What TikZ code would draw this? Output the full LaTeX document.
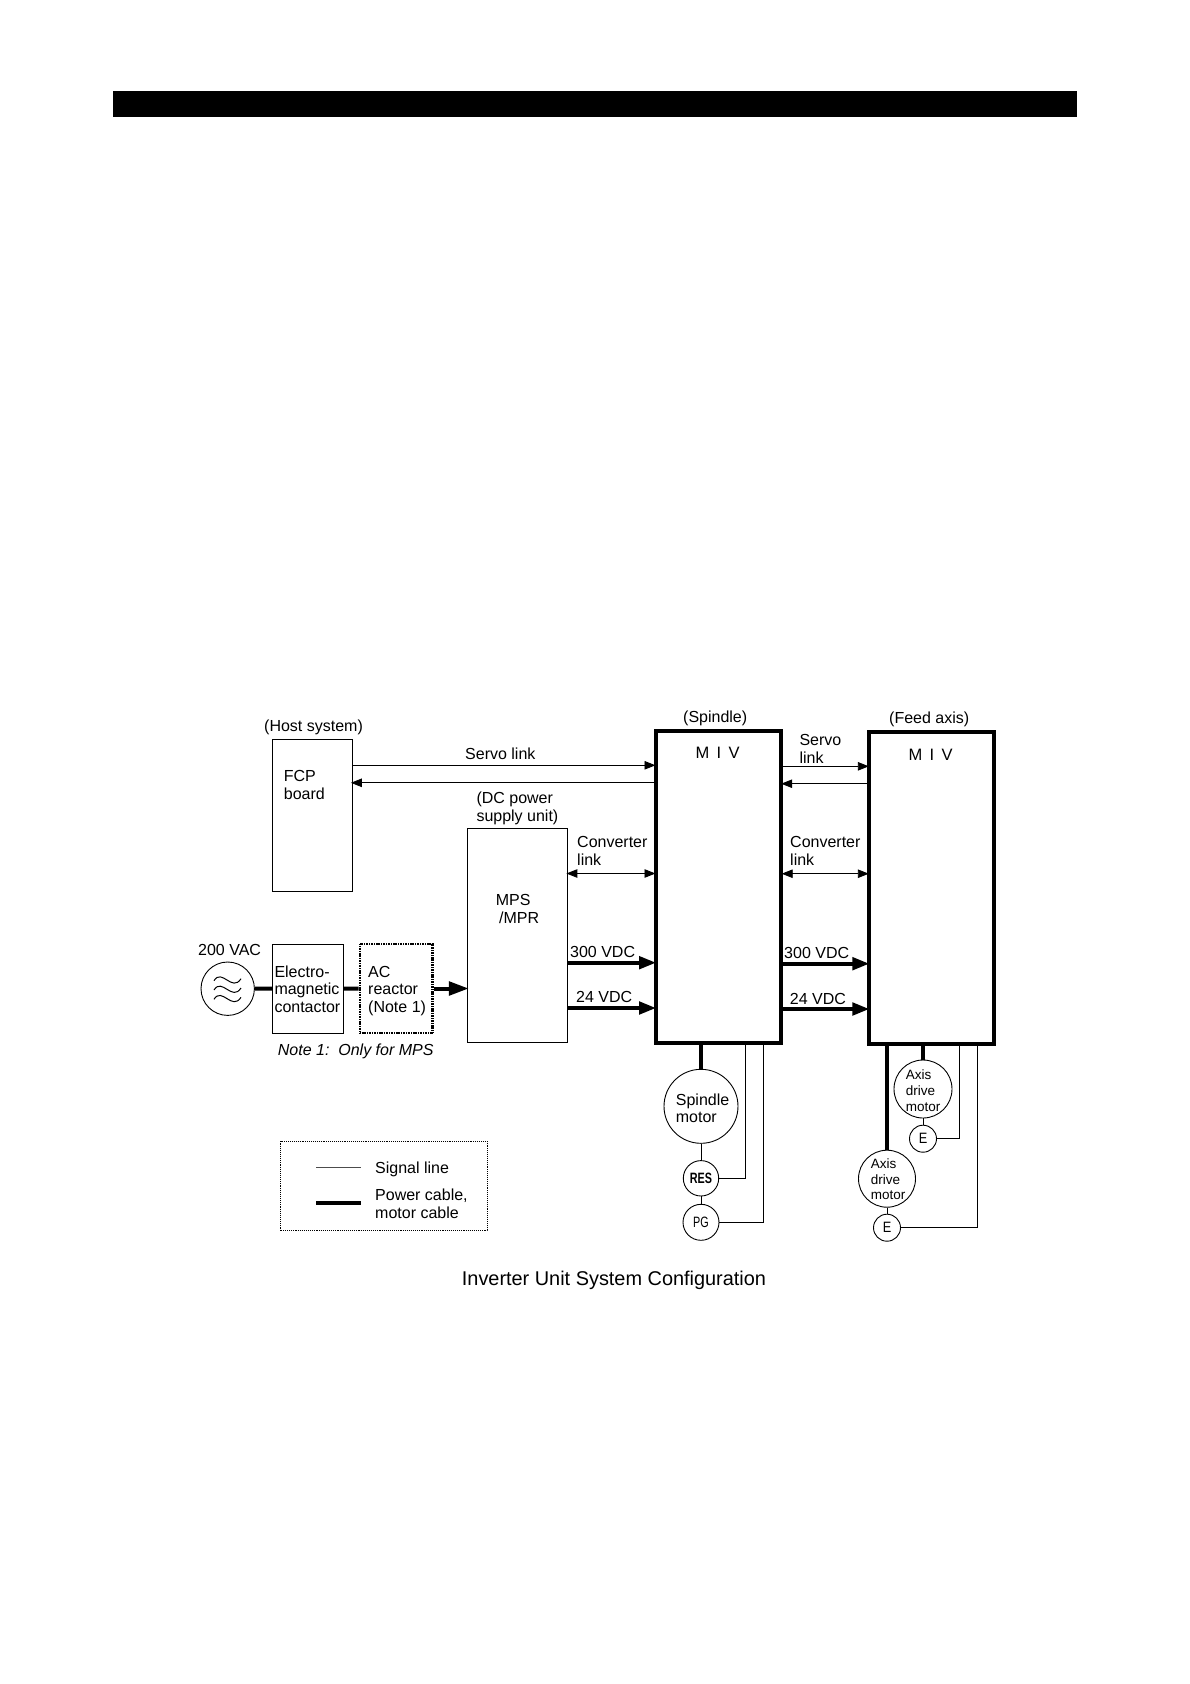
\documentclass[tikz,border=0pt]{standalone}
\usepackage{fontspec}
\setmainfont{Liberation Sans}
\usetikzlibrary{arrows.meta}
\tikzset{
  x=1pt,y=-1pt,
  lbl/.style={anchor=base west,inner sep=0pt,align=left,yshift=-.7pt,font=\fontsize{16}{17.5}\selectfont},
  small/.style={lbl,font=\fontsize{13.5}{15.6}\selectfont},
  box/.style={draw,line width=.8pt,inner sep=0pt},
  unit/.style={draw,line width=4pt,inner sep=0pt},
  dotbox/.style={draw,line width=2.6pt,dash pattern=on 1.1pt off .6pt,inner sep=0pt},
  legendbox/.style={draw,line width=.8pt,dash pattern=on 1.1pt off 1pt,inner sep=0pt},
  circ/.style={draw,circle,line width=.9pt,inner sep=0pt},
  sig/.style={line width=.9pt},
  pow/.style={line width=3.6pt},
  tipthin/.style={-{Triangle[length=11pt,width=8.5pt]},shorten >=-1.5pt},
  tiptwo/.style={{Triangle[length=11pt,width=8.5pt]}-{Triangle[length=11pt,width=8.5pt]},shorten >=-1.5pt,shorten <=-1pt},
  tipthick/.style={-{Triangle[length=17pt,width=12.5pt]},shorten >=-2pt},
}
\newcommand{\narrowtxt}[2]{\fontsize{15}{15}\selectfont\scalebox{#1}[1]{#2}}
\begin{document}
\begin{tikzpicture}
\fill[white] (0,0) rectangle (1190,1684);
\useasboundingbox (0,0) rectangle (1190,1684);
\fill[black] (113,90.5) rectangle (1077,116.8);

% boxes
\node[box,minimum width=79.5pt,minimum height=152pt] (fcp) at (312.25,815) {};
\node[box,minimum width=99.3pt,minimum height=214.7pt] (mps) at (517.35,935.35) {};
\node[box,minimum width=70.5pt,minimum height=88.7pt] (emc) at (307.75,988.65) {};
\node[dotbox,minimum width=72.7pt,minimum height=89pt] (acr) at (396.35,988.5) {};
\node[unit,minimum width=124.7pt,minimum height=312pt] (miva) at (718.35,887) {};
\node[unit,minimum width=125pt,minimum height=312pt] (mivb) at (931.8,888) {};
\node[legendbox,minimum width=206.3pt,minimum height=89pt] (legend) at (383.85,1185.5) {};

% circles
\node[circ,minimum size=53.4pt] (src) at (227.7,988.7) {};
\node[circ,minimum size=74pt] (smot) at (701,1106.3) {};
\node[circ,minimum size=35.4pt] (res) at (701,1178.3) {\fontsize{15}{15}\selectfont\bfseries\scalebox{.72}[1]{RES}};
\node[circ,minimum size=36pt] (pg) at (701,1222.3) {\narrowtxt{.72}{PG}};
\node[circ,minimum size=58pt] (amota) at (923,1089) {};
\node[circ,minimum size=27pt] (ea) at (923,1138.7) {\narrowtxt{.85}{E}};
\node[circ,minimum size=57pt] (amotb) at (887,1178.7) {};
\node[circ,minimum size=27pt] (eb) at (887,1227.7) {\narrowtxt{.85}{E}};

% AC waves
\foreach \wy in {980.7,990,999.3}
  \draw[line width=1pt] (214,\wy) .. controls (222,\wy-13) and (232,\wy+12) .. (241,\wy-2);

% host links
\draw[sig,tipthin] (fcp.east |- 0,765.3) -- (miva.west |- 0,765.3);
\draw[sig,tipthin] (miva.west |- 0,782.8) -- (fcp.east |- 0,782.8);
\draw[sig,tiptwo] (mps.east |- 0,873.5) -- (miva.west |- 0,873.5);
\draw[pow,tipthick] (mps.east |- 0,962.7) -- (miva.west |- 0,962.7);
\draw[pow,tipthick] (mps.east |- 0,1008) -- (miva.west |- 0,1008);

% unit to unit links
\draw[sig,tipthin] (miva.east |- 0,766.3) -- (mivb.west |- 0,766.3);
\draw[sig,tipthin] (mivb.west |- 0,783.7) -- (miva.east |- 0,783.7);
\draw[sig,tiptwo] (miva.east |- 0,873.7) -- (mivb.west |- 0,873.7);
\draw[pow,tipthick] (miva.east |- 0,963.7) -- (mivb.west |- 0,963.7);
\draw[pow,tipthick] (miva.east |- 0,1009) -- (mivb.west |- 0,1009);

% AC input
\draw[line width=4pt] (src.east) -- (emc.west);
\draw[line width=4pt] (emc.east) -- (acr.west);
\draw[line width=4pt,-{Triangle[length=20pt,width=13.5pt]},shorten >=-1.5pt] (acr.east) -- (mps.west |- acr.east);

% spindle motor group
\draw[pow] (miva.south -| smot.north) -- (smot.north);
\draw[sig] (smot.south) -- (res.north);
\draw[sig] (res.south) -- (pg.north);
\draw[sig] (miva.south -| 745,0) |- (res.east);
\draw[sig] (miva.south -| 763.3,0) |- (pg.east);

% feed axis motor groups
\draw[line width=4pt] (mivb.south -| amota.north) -- (amota.north);
\draw[line width=4pt] (mivb.south -| amotb.north) -- (amotb.north);
\draw[sig] (amota.south) -- (ea.north);
\draw[sig] (amotb.south) -- (eb.north);
\draw[sig] (mivb.south -| 959,0) |- (ea.east);
\draw[sig] (mivb.south -| 977,0) |- (eb.east);

% legend samples
\coordinate (sa) at (316.3,1167.7);
\coordinate (sb) at (360.7,1167.7);
\coordinate (pa) at (316.3,1203);
\coordinate (pb) at (360.7,1203);
\draw[line width=.8pt,black!70] (sa) -- (sb);
\draw[line width=3.4pt] (pa) -- (pb);

% labels
\node[lbl] (thost) at (264,731) {(Host system)};
\node[lbl] (tservo) at (465,759) {Servo link};
\node[lbl] (tfcp) at (283.7,798.7) {FCP\\board};
\node[lbl] (tdc) at (476.3,820.7) {(DC power\\supply unit)};
\node[lbl] (tconva) at (577,864.3) {Converter\\link};
\node[lbl] (tmps) at (495.7,922.7) {MPS\\\hspace{3.3pt}/MPR};
\node[lbl] (tvac) at (198,955) {200 VAC};
\node[lbl] (temc) at (274.3,1011.7) {Electro-\\magnetic\\contactor};
\node[lbl] (tacr) at (368,1011.7) {AC\\reactor\\(Note 1)};
\node[lbl] (tva) at (570,956.7) {300 VDC};
\node[lbl] (tvb) at (576,1002) {24 VDC};
\node[lbl,font=\fontsize{16}{17.5}\selectfont\itshape] (tnote) at (277.7,1055) {Note 1:\ \ Only for MPS};
\node[lbl] (tspin) at (683,722) {(Spindle)};
\node[lbl] (tfeed) at (889,723) {(Feed axis)};
\node[lbl,font=\fontsize{16.5}{17.5}\selectfont] (tmiva) at (695.3,758) {M\hspace{7.4pt}I\hspace{7.4pt}V};
\node[lbl,font=\fontsize{16.5}{17.5}\selectfont] (tmivb) at (908.3,759.3) {M\hspace{7.4pt}I\hspace{7.4pt}V};
\node[lbl] (tservob) at (799.3,762.3) {Servo\\link};
\node[lbl] (tconvb) at (790,864.7) {Converter\\link};
\node[lbl] (tvc) at (784,957.7) {300 VDC};
\node[lbl] (tvd) at (789.7,1003.3) {24 VDC};
\node[lbl] (tsmot) at (675.7,1122) {Spindle\\motor};
\node[small] (tama) at (905.7,1110.3) {Axis\\drive\\motor};
\node[small] (tamb) at (870.7,1199) {Axis\\drive\\motor};
\node[lbl] (tsig) at (375,1172.7) {Signal line};
\node[lbl] (tpow) at (375,1217.3) {Power cable,\\motor cable};
\node[lbl,font=\fontsize{19.9}{22}\selectfont] (tcap) at (461.7,1285) {Inverter Unit System Configuration};
\end{tikzpicture}
\end{document}
